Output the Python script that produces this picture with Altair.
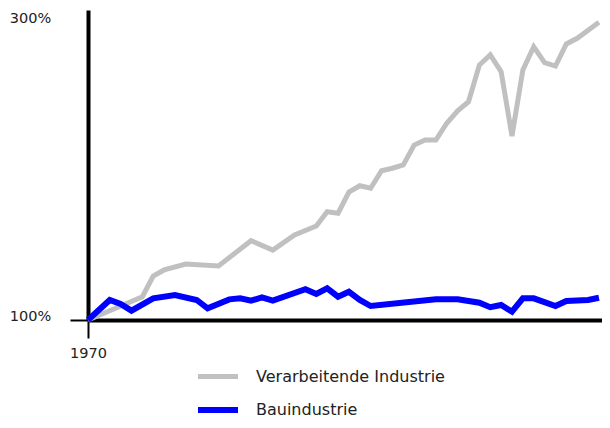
import altair as alt
import pandas as pd

series_names = ["Verarbeitende Industrie", "Bauindustrie"]
series_colors = ["#c0c0c0", "#0000ff"]

gray_years = [1970, 1975, 1976, 1977, 1979, 1982, 1985, 1987, 1989, 1991, 1992, 1993,
              1994, 1995, 1996, 1997, 1998, 1999, 2000, 2001, 2002, 2003, 2004, 2005,
              2006, 2007, 2008, 2009, 2010, 2011, 2012, 2013, 2014, 2015, 2017]
gray_values = [100, 115.7, 129.6, 133.7, 137.7, 136.4, 153.4, 147.1, 157.2, 163.3, 172.9, 171.9,
               186.2, 190.4, 188.7, 200.5, 202.2, 204.4, 217.8, 221.2, 221.2, 232.5, 240.9, 247.0,
               271.7, 278.5, 267.2, 223.9, 268.4, 284.0, 273.3, 271.0, 285.9, 289.7, 300.5]

blue_years = [1970, 1972, 1973, 1974, 1976, 1978, 1980, 1981, 1983, 1984, 1985, 1986,
              1987, 1990, 1991, 1992, 1993, 1994, 1995, 1996, 2002, 2004, 2006, 2007,
              2008, 2009, 2010, 2011, 2013, 2014, 2016, 2017]
blue_values = [100, 113.5, 110.8, 106.3, 114.6, 116.8, 113.5, 107.9, 113.9, 114.6, 113.0, 115.3,
               113.0, 120.7, 117.5, 121.3, 115.7, 119.0, 113.5, 109.4, 113.9, 113.9, 111.6, 108.6,
               110.1, 105.6, 114.6, 114.6, 109.4, 112.8, 113.5, 115.0]

y_ticks = [100, 300]
x_ticks = [1970]

rows = []
for yr, v in zip(gray_years, gray_values):
    rows.append({"year": yr, "value": v, "series": series_names[0]})
for yr, v in zip(blue_years, blue_values):
    rows.append({"year": yr, "value": v, "series": series_names[1]})
df = pd.DataFrame(rows)

FONT = "DejaVu Sans"
TXT = "#222222"

x_enc = alt.X(
    "year:Q",
    scale=alt.Scale(domain=[1970, 2017.28], nice=False, zero=False),
    axis=alt.Axis(
        values=x_ticks, format="d", title=None, grid=False, labelFlush=False,
        domainColor="black", domainWidth=4,
        tickColor="black", tickWidth=2, tickSize=18,
        labelFont=FONT, labelFontSize=14.5, labelColor=TXT, labelPadding=8,
    ),
)
y_enc = alt.Y(
    "value:Q",
    scale=alt.Scale(domain=[100, 308.75], nice=False, zero=False),
    axis=alt.Axis(
        values=y_ticks, title=None, grid=False, labelFlush=False,
        labelExpr="datum.value + '%'",
        domainColor="black", domainWidth=4,
        tickColor="black", tickWidth=2, tickSize=18,
        tickOpacity={"condition": {"test": "datum.value == 300", "value": 0}, "value": 1},
        labelFont=FONT, labelFontSize=14.5, labelColor=TXT,
        labelAlign="center", labelBaseline="alphabetic", labelPadding=40,
    ),
)
color_enc = alt.Color(
    "series:N",
    scale=alt.Scale(domain=series_names, range=series_colors),
    legend=alt.Legend(
        title=None, orient="none", legendX=107, legendY=344, padding=0,
        symbolType="stroke", symbolSize=1600, symbolStrokeWidth=5,
        labelOffset=15, rowPadding=0, labelLimit=400,
        labelFont=FONT, labelFontSize=16, labelColor=TXT, labelBaseline="middle",
    ),
)
sw_enc = alt.StrokeWidth(
    "series:N",
    scale=alt.Scale(domain=series_names, range=[5, 6]),
    legend=None,
)

base = alt.Chart(df).encode(x=x_enc, y=y_enc, color=color_enc, strokeWidth=sw_enc)
gray = base.transform_filter(alt.datum.series == series_names[0]).mark_line()
blue = base.transform_filter(alt.datum.series == series_names[1]).mark_line()

chart = alt.layer(gray, blue).properties(
    width=514, height=310,
    padding={"left": 80, "top": 2, "right": 0, "bottom": 100},
    autosize=alt.AutoSizeParams(type="none"),
    background="white",
).configure_view(stroke=None)

chart.save("out.html", embed_options={"renderer": "svg", "actions": False})
